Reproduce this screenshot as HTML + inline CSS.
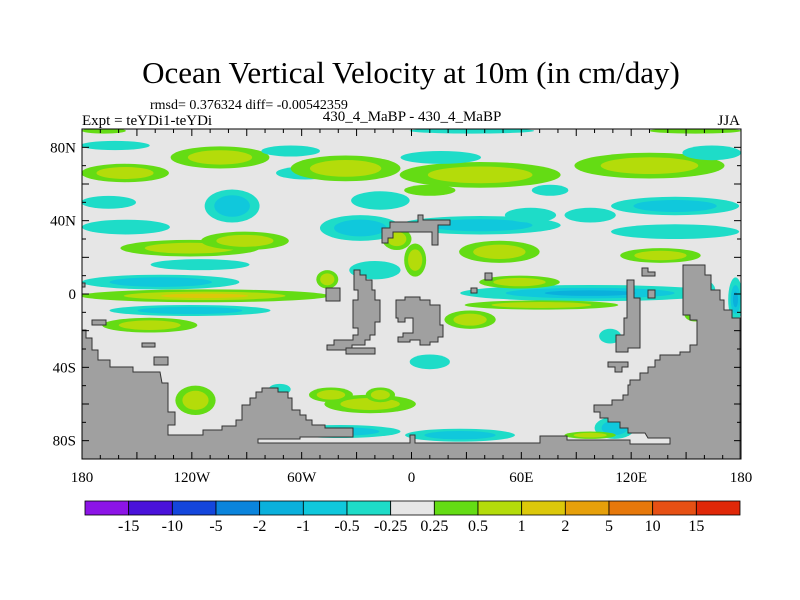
<!DOCTYPE html>
<html><head><meta charset="utf-8"><style>
html,body{margin:0;padding:0;background:#fff;width:800px;height:600px;overflow:hidden}
svg text{font-family:"Liberation Serif",serif;fill:#000}
</style></head><body>
<svg id="s" width="800" height="600" xmlns="http://www.w3.org/2000/svg">
<text x="411" y="83" font-size="31" text-anchor="middle">Ocean Vertical Velocity at 10m (in cm/day)</text>
<text x="150" y="109" font-size="14">rmsd= 0.376324 diff= -0.00542359</text>
<text x="82" y="125" font-size="15">Expt = teYDi1-teYDi</text>
<text x="412" y="121" font-size="15" text-anchor="middle">430_4_MaBP - 430_4_MaBP</text>
<text x="740" y="125" font-size="15" text-anchor="end">JJA</text>
<g id="map"></g>
<g id="axes"></g>
<g id="cbar"></g>
</svg>
<script>
const levelLabels=["-15","-10","-5","-2","-1","-0.5","-0.25","0.25","0.5","1","2","5","10","15"];
const levelColors=["#8c14e6","#4a12da","#1446dc","#0a84dc","#0ab0dc","#10c8dc","#1edcc8","#e6e6e6","#64dc14","#b4dc0a","#dcc80a","#e6a00a","#e6780a","#e65014","#e02808"];
const lonTicks=[-180,-120,-60,0,60,120,180];
const lonTickLabels=["180","120W","60W","0","60E","120E","180"];
const latTicks=[80,40,0,-40,-80];
const latTickLabels=["80N","40N","0","40S","80S"];
// anomaly blobs: lon, lat, half-width(deg), half-height(deg), value
const blobLon=[97.6,71,59,37.5,37.5,130,144,144,48,136,164,16,
 -162,-104.6,-156.5,-98,-165.5,-156,-121,-91,-115.5,-137,-113,-121,-143,-66,-58,-36,-17,-28,-8,-20,-46,2,
 -22.6,-44,-39,26.5,111,97.6,-118,-72,10,32,108.5,-17,177,65,158,155,155,33,-168,97.6,10,75.7];
const blobLat=[0.5,-6,6.5,37.5,65,70,48,34,23,21,77,74.5,
 81,74.5,66,48,50,36.5,25,29,16,6.5,-1,-9,-17,78,66,68.5,51,36,30,13,8,18.5,
 -60,-55,-75,-77,-73,-77,-58,-52,-37,-14,-23,-55,-3,43,2,-11,89,89,89,43,56.6,56.6];
const blobRx=[71,42,22,44,44,41,35,35,22,22,16,22,
 19,27,24,15,15,24,38,24,27,43,68,44,26,16,16,30,16,22,8,14,6,6,
 25,12,33,30,11,14,11,6,11,14,6,8,4,14,8,6,25,34,12,14,14,10];
const blobRy=[4.4,2.5,3.5,5,7,7,5,4,6,4,4,3.5,
 2.5,6,5,9,3.5,4,4.5,5,3,4,3.5,3,4,3,3.5,7,5,7,6,5,5,9,
 5,4,3.5,3.5,6,2,8,3,4,5,4,4,12,4,6,4,1.5,1.5,1.5,4,3,3];
const blobVal=[-1.2,0.7,0.8,-0.8,0.9,0.8,-0.6,-0.5,0.9,0.6,-0.5,-0.5,
 -0.4,0.9,0.7,-0.8,-0.4,-0.5,0.7,0.8,-0.4,-0.9,1.2,-0.7,0.6,-0.4,-0.4,0.9,-0.5,-0.8,0.7,-0.5,0.6,0.7,
 0.9,0.6,-0.6,-0.6,-0.6,0.6,0.7,-0.4,-0.4,0.6,-0.4,0.6,-1.2,-0.5,-0.8,0.5,0.5,-0.5,0.5,-0.5,0.5,-0.4];
const X0=82,X1=741,Y0=129,Y1=459;
const xs=lon=>X0+(lon+180)/360*(X1-X0);
const ys=lat=>Y0+(90-lat)/180*(Y1-Y0);
const NS="http://www.w3.org/2000/svg";
function mk(tag,at,parent){const e=document.createElementNS(NS,tag);for(const k in at)e.setAttribute(k,at[k]);parent.appendChild(e);return e;}
const map=document.getElementById('map');
const bg=mk('rect',{x:X0,y:Y0,width:X1-X0,height:Y1-Y0,fill:'#e6e6e6'},map);


function colorFor(v){const b=[-15,-10,-5,-2,-1,-0.5,-0.25,0.25,0.5,1,2,5,10,15];let i=0;while(i<b.length&&v>b[i])i++;return levelColors[i];}
const defs=mk('defs',{},map);
const cp=mk('clipPath',{id:'clip'},defs);
mk('rect',{x:X0,y:Y0,width:X1-X0,height:Y1-Y0},cp);
const bl=mk('g',{'clip-path':'url(#clip)'},map);
for(let i=0;i<blobLon.length;i++){
  const v=blobVal[i],sgn=v<0?-1:1;
  const steps=sgn<0?[-0.3,-0.6,-1.1]:[0.3,0.6,1.1];
  steps.forEach((t,k)=>{
    if(Math.abs(v)<Math.abs(t))return;
    const f=k===0?1:(k===1?0.65:0.35);
    const e=mk('ellipse',{cx:xs(blobLon[i]),cy:ys(blobLat[i]),rx:blobRx[i]*1.83*f,ry:blobRy[i]*1.84*f,fill:colorFor(t)},bl);
    
    
  });
}
const lands=[
 "82,330 86,330 86,338 92,338 92,350 98,350 98,360 110,360 110,367 133,367 133,372 160,372 162,383 168,383 168,393 168,412 175,412 175,425 168,425 168,435 203,435 203,430 222,430 222,426 236,426 236,420 242,420 242,405 250,405 250,398 256,398 256,392 262,392 262,388 278,388 278,392 288,392 288,398 292,398 292,410 300,410 300,415 306,415 306,420 312,420 312,425 325,425 325,428 353,428 353,437 300,437 300,439 258,439 258,443 410,443 410,435 415,435 415,443 540,443 540,436 567,436 567,440 630,440 630,444 670,444 670,438 648,438 645,433 628,433 628,428 620,428 620,422 608,422 608,418 600,418 600,412 594,412 594,405 612,405 612,400 623,400 623,395 628,395 628,385 630,385 630,380 640,380 640,373 648,373 648,367 655,367 655,360 660,360 660,355 680,355 680,352 690,352 690,345 697,345 697,320 690,320 690,315 683,315 683,265 705,265 705,275 711,275 711,290 720,290 720,300 724,300 724,310 732,310 732,318 740,318 740,459 82,459",
 "382,243 382,228 390,228 390,222 418,222 418,215 423,215 423,220 450,220 450,225 438,225 438,245 432,245 432,232 393,232 393,238 388,238 388,243",
 "354,270 360,270 360,275 366,275 366,280 372,280 372,290 375,290 375,300 380,300 380,322 375,322 375,335 370,335 370,340 365,340 365,345 352,345 352,350 327,350 327,345 334,345 334,340 353,340 353,335 358,335 358,328 353,328 353,300 358,300 358,290 354,290",
 "346,348 375,348 375,354 346,354",
 "326,288 340,288 340,301 326,301",
 "396,300 405,300 405,297 420,297 420,300 430,300 430,305 440,305 440,325 443,325 443,337 438,337 438,342 430,342 430,345 420,345 420,340 410,340 410,342 398,342 398,337 403,337 403,333 413,333 413,318 405,318 405,322 398,322 398,318 396,318",
 "485,273 492,273 492,280 485,280","471,288 477,288 477,293 471,293",
 "627,280 634,280 634,298 640,298 640,348 628,348 628,352 616,352 616,335 624,335 624,318 627,318",
 "608,362 628,362 628,367 622,367 622,372 615,372 615,367 608,367",
 "642,268 648,268 648,272 655,272 655,276 642,276","648,290 655,290 655,298 648,298",
 "92,320 106,320 106,325 92,325","142,343 155,343 155,347 142,347","154,357 168,357 168,365 154,365","82,283 85,283 85,287 82,287"];
lands.forEach(p=>{
  const e=mk('polygon',{points:p,fill:'#a0a0a0',stroke:'#333','stroke-width':1},map);
  
  
});
const ax=document.getElementById('axes');
mk('rect',{x:X0,y:Y0,width:X1-X0,height:Y1-Y0,fill:'none',stroke:'#000','stroke-width':1},ax);
for(let lon=-180;lon<=180;lon+=10){const x=xs(lon),L=(lon%30===0)?7:4;
  mk('line',{x1:x,y1:Y1,x2:x,y2:Y1-L,stroke:'#000'},ax);mk('line',{x1:x,y1:Y0,x2:x,y2:Y0+L,stroke:'#000'},ax);}
for(let lat=-90;lat<=90;lat+=10){const y=ys(lat),L=(lat%20===0)?7:4;
  mk('line',{x1:X0,y1:y,x2:X0+L,y2:y,stroke:'#000'},ax);mk('line',{x1:X1,y1:y,x2:X1-L,y2:y,stroke:'#000'},ax);}
lonTicks.forEach((v,i)=>{const t=mk('text',{x:xs(v),y:482,'font-size':15,'text-anchor':'middle'},ax);t.textContent=lonTickLabels[i];
  
  });
latTicks.forEach((v,i)=>{const t=mk('text',{x:76,y:ys(v)+5,'font-size':15,'text-anchor':'end'},ax);t.textContent=latTickLabels[i];
  
  });
const cb=document.getElementById('cbar');const cx0=85,cx1=740,cw=(cx1-cx0)/levelColors.length;
levelColors.forEach((c,i)=>{const r=mk('rect',{x:cx0+i*cw,y:501,width:cw,height:14,fill:c,stroke:'#000','stroke-width':0.8},cb);
  
  });
levelLabels.forEach((l,i)=>{const t=mk('text',{x:cx0+(i+1)*cw,y:531,'font-size':16,'text-anchor':'middle'},cb);t.textContent=l;
  
  });
</script>
</body></html>
